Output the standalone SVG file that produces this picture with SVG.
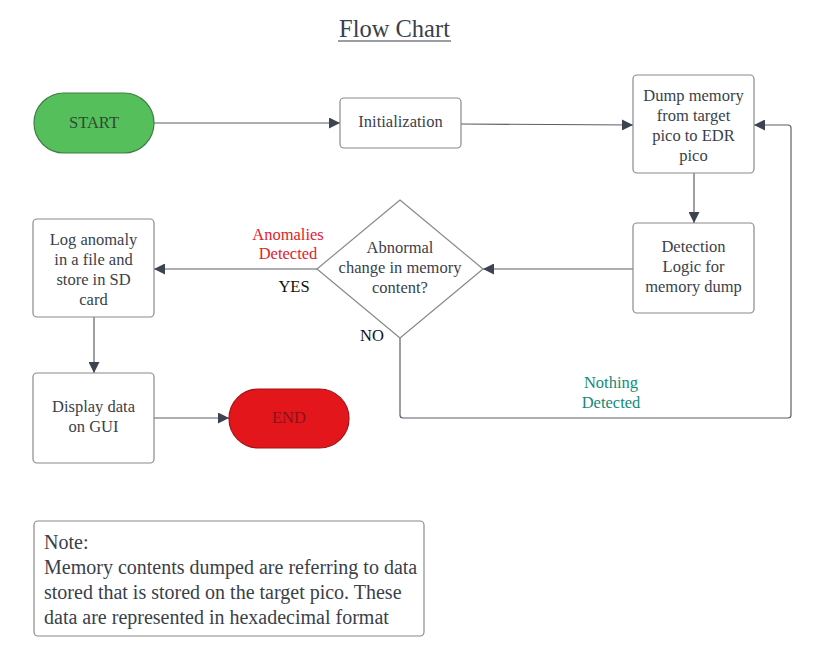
<svg xmlns="http://www.w3.org/2000/svg" width="831" height="652" viewBox="0 0 831 652">
<defs>
<marker id="arr" viewBox="0 0 10 10" refX="10" refY="5" markerWidth="11" markerHeight="11" markerUnits="userSpaceOnUse" orient="auto">
<path d="M0,0 L10,5 L0,10 z" fill="#3d4350"/>
</marker>
<style>
text{font-family:"Liberation Serif","Times New Roman",serif;fill:#3a3f4a;text-anchor:middle}
.box{fill:#fff;stroke:#8a8a8a;stroke-width:1.2}
.n{font-size:16.5px}
.c{fill:none;stroke:#5a5f68;stroke-width:1.2;marker-end:url(#arr)}
.lbl{font-size:16.5px}
.note{text-anchor:start;font-size:20px}
</style>
</defs>
<rect width="831" height="652" fill="#fff"/>
<text x="394.5" y="37" style="font-size:24.5px">Flow Chart</text>
<line x1="338" y1="41" x2="451" y2="41" stroke="#3a3f4a" stroke-width="1.2"/>

<g id="connectors">
<path class="c" d="M154,123 L340,123"/>
<path class="c" d="M461,124 L633,125"/>
<path class="c" d="M694,173 L694,223"/>
<path class="c" d="M633,269 L483,269"/>
<path class="c" d="M317,269 L154,269"/>
<path class="c" d="M94,317 L94,373"/>
<path class="c" d="M154,418 L229,418"/>
<path class="c" d="M400,338 L400,415 Q400,418 403,418 L788,418 Q791,418 791,415 L791,128 Q791,125 788,125 L754,125"/>
</g>

<g id="start">
<rect x="34" y="93" width="120" height="60" rx="30" fill="#55c05b" stroke="#3f7d45" stroke-width="1.2"/>
<text class="n" x="94" y="128" style="fill:#2f4a33">START</text>
</g>
<g id="init">
<rect class="box" x="340" y="98" width="121" height="50" rx="4"/>
<text class="n" x="400.5" y="127">Initialization</text>
</g>
<g id="dump">
<rect class="box" x="633" y="75" width="121" height="98" rx="4"/>
<text class="n" x="693.5" y="101">Dump memory</text>
<text class="n" x="693.5" y="121">from target</text>
<text class="n" x="693.5" y="141">pico to EDR</text>
<text class="n" x="693.5" y="161">pico</text>
</g>
<g id="detect">
<rect class="box" x="633" y="223" width="121" height="90" rx="4"/>
<text class="n" x="693.5" y="252">Detection</text>
<text class="n" x="693.5" y="272">Logic for</text>
<text class="n" x="693.5" y="292">memory dump</text>
</g>
<g id="decision">
<path d="M400,200 L483,269 L400,338 L317,269 Z" fill="#fff" stroke="#8a8a8a" stroke-width="1.2" stroke-linejoin="round"/>
<text class="n" x="400" y="253">Abnormal</text>
<text class="n" x="400" y="273">change in memory</text>
<text class="n" x="400" y="293">content?</text>
</g>
<g id="log">
<rect class="box" x="33" y="219" width="121" height="98" rx="4"/>
<text class="n" x="93.5" y="245">Log anomaly</text>
<text class="n" x="93.5" y="265">in a file and</text>
<text class="n" x="93.5" y="285">store in SD</text>
<text class="n" x="93.5" y="305">card</text>
</g>
<g id="display">
<rect class="box" x="33" y="373" width="121" height="90" rx="4"/>
<text class="n" x="93.5" y="412">Display data</text>
<text class="n" x="93.5" y="432">on GUI</text>
</g>
<g id="end">
<rect x="229" y="389" width="120" height="59" rx="29.5" fill="#e3171b" stroke="#a01418" stroke-width="1.2"/>
<text class="n" x="289" y="423" style="fill:#8a1216">END</text>
</g>

<g id="labels">
<text class="lbl" x="288" y="240" style="fill:#e5202a">Anomalies</text>
<text class="lbl" x="288" y="259" style="fill:#e5202a">Detected</text>
<text class="lbl" x="294" y="292" style="fill:#111">YES</text>
<text class="lbl" x="372" y="341" style="fill:#111">NO</text>
<text class="lbl" x="611" y="388" style="fill:#138a78">Nothing</text>
<text class="lbl" x="611" y="408" style="fill:#138a78">Detected</text>
</g>

<g id="note">
<rect x="34" y="521" width="390" height="115" rx="4" fill="#fff" stroke="#8a8a8a" stroke-width="1.2"/>
<text class="note" x="44" y="549">Note:</text>
<text class="note" x="44" y="574">Memory contents dumped are referring to data</text>
<text class="note" x="44" y="599">stored that is stored on the target pico. These</text>
<text class="note" x="44" y="624">data are represented in hexadecimal format</text>
</g>
</svg>
